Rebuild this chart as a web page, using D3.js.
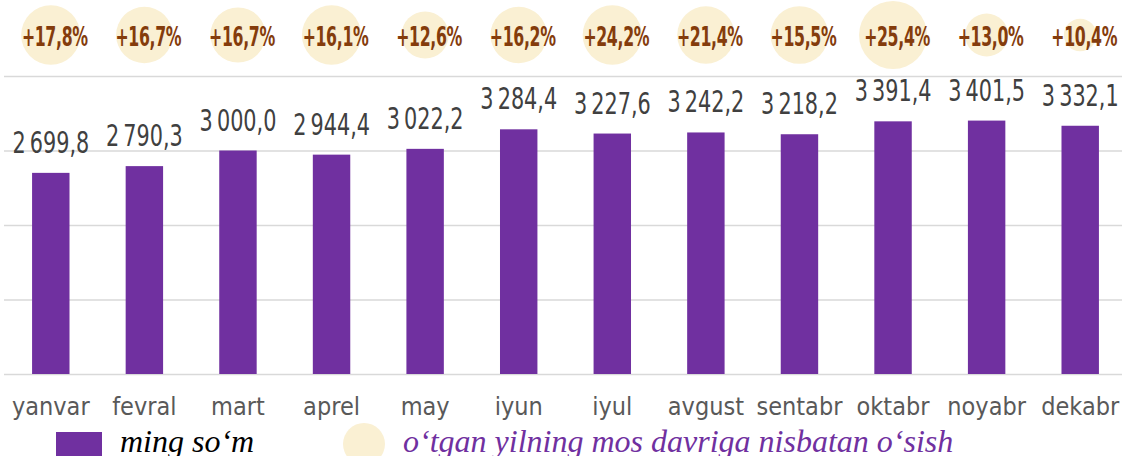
<!DOCTYPE html>
<html>
<head>
<meta charset="utf-8">
<script src="https://cdn.jsdelivr.net/npm/d3@7/dist/d3.min.js"></script>
<style>
  html, body { margin: 0; padding: 0; background: #fff; }
  svg { display: block; }
</style>
</head>
<body>
<svg id="chart" width="1122" height="456"></svg>
<script>
// Monthly values, thousand so'm
const months = ["yanvar", "fevral", "mart", "aprel", "may", "iyun", "iyul", "avgust", "sentabr", "oktabr", "noyabr", "dekabr"];
const values = [2699.8, 2790.3, 3000.0, 2944.4, 3022.2, 3284.4, 3227.6, 3242.2, 3218.2, 3391.4, 3401.5, 3332.1];
// Growth versus the same period of the previous year, %
const growth = [17.8, 16.7, 16.7, 16.1, 12.6, 16.2, 24.2, 21.4, 15.5, 25.4, 13.0, 10.4];
// Relative bubble area for each growth marker
const bubbleArea = [76, 69, 66, 76, 48, 69, 76, 71, 72, 100, 40, 23];
const yTicks = [0, 1000, 2000, 3000, 4000];

const svg = d3.select("#chart");
const W = 1122;

const x = d3.scaleBand().domain(months).range([4, 1127]).paddingInner(0.6).paddingOuter(0.3);
const y = d3.scaleLinear().domain([0, 4000]).range([374, 76]);
const r = d3.scaleSqrt().domain([0, 100]).range([0, 34]);
const cx = i => x(months[i]) + x.bandwidth() / 2;

const fmtNum = v => {
  const s = d3.format(",.1f")(v);
  return s.replace(/,/g, "\u2009").replace(".", ",");
};
const fmtPct = v => "+" + d3.format(".1f")(v).replace(".", ",") + "%";

// narrow display face for the numeric labels
const numFont = "'DejaVu Sans Condensed', 'DejaVu Sans', sans-serif";

// horizontal gridlines
const grid = d3.axisLeft(y).tickValues(yTicks).tickSize(-(W - 4)).tickFormat("");
svg.append("g")
  .attr("transform", "translate(4,0)")
  .call(grid)
  .call(g => g.select(".domain").remove())
  .call(g => g.selectAll("line").attr("stroke", "#d9d9d9").attr("stroke-width", 1.5));

// bars
svg.append("g").selectAll("rect").data(values).join("rect")
  .attr("x", (d, i) => x(months[i]))
  .attr("y", d => y(d))
  .attr("width", x.bandwidth())
  .attr("height", d => y(0) - y(d))
  .attr("fill", "#7030a0");

// value labels
svg.append("g").selectAll("text").data(values).join("text")
  .attr("transform", (d, i) => `translate(${cx(i)},${y(d) - 20}) scale(0.77,1)`)
  .attr("text-anchor", "middle")
  .attr("font-family", numFont)
  .attr("font-stretch", "condensed")
  .attr("font-size", 30)
  .attr("fill", "#404040")
  .text(d => fmtNum(d));

// month axis
const xAxis = d3.axisBottom(x).tickSize(0).tickPadding(0);
svg.append("g")
  .attr("transform", "translate(0,374)")
  .call(xAxis)
  .call(g => g.select(".domain").remove())
  .call(g => g.selectAll("text")
    .attr("dy", 0)
    .attr("y", 41)
    .attr("font-family", "'DejaVu Sans', sans-serif")
    .attr("font-stretch", "condensed")
    .attr("font-size", 25)
    .attr("fill", "#595959"));

// growth bubbles
const bubbles = svg.append("g");
bubbles.selectAll("circle").data(bubbleArea).join("circle")
  .attr("cx", (d, i) => cx(i))
  .attr("cy", 35)
  .attr("r", d => r(d))
  .attr("fill", "#faf0d3");
bubbles.selectAll("text").data(growth).join("text")
  .attr("transform", (d, i) => `translate(${cx(i) + 4},46) scale(0.66,1)`)
  .attr("text-anchor", "middle")
  .attr("font-family", numFont)
  .attr("font-stretch", "condensed")
  .attr("font-weight", "bold")
  .attr("font-size", 26.5)
  .attr("letter-spacing", -0.5)
  .attr("fill", "#843c0c")
  .text(d => fmtPct(d));

// legend
const legend = svg.append("g");
legend.append("rect").attr("x", 56).attr("y", 432).attr("width", 46).attr("height", 30).attr("fill", "#7030a0");
legend.append("text").attr("x", 120).attr("y", 452)
  .attr("font-family", "'Liberation Serif', serif").attr("font-style", "italic")
  .attr("font-size", 32).attr("fill", "#000").text("ming so\u2018m");
legend.append("circle").attr("cx", 364).attr("cy", 444).attr("r", 21).attr("fill", "#faf0d3");
legend.append("text").attr("x", 403).attr("y", 452)
  .attr("font-family", "'Liberation Serif', serif").attr("font-style", "italic")
  .attr("font-size", 32).attr("fill", "#7030a0").text("o\u2018tgan yilning mos davriga nisbatan o\u2018sish");
</script>
</body>
</html>
